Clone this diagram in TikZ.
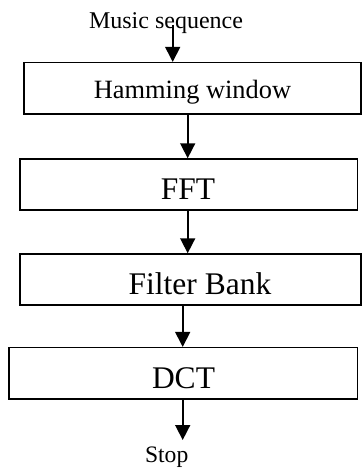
\documentclass[tikz,border=0pt]{standalone}
\usepackage{fontspec}
\setmainfont{Liberation Serif}
\usetikzlibrary{arrows.meta}
\begin{document}
\begin{tikzpicture}[x=1pt,y=-1pt,
  box/.style={draw, line width=1.5pt, rectangle, inner sep=0pt},
  arr/.style={line width=1.6pt, -{Triangle[width=15pt,length=15pt]}},
  lbl/.style={anchor=base, inner sep=0pt}]
\useasboundingbox (0,0) rectangle (362,468);
% boxes
\node[box, minimum width=337pt, minimum height=51.3pt] (ham) at (192.5,88.3) {};
\node[box, minimum width=337.5pt, minimum height=51pt] (fft) at (188.75,184.5) {};
\node[box, minimum width=341pt, minimum height=51pt] (fb) at (190.5,279.5) {};
\node[box, minimum width=348.5pt, minimum height=51.3pt] (dct) at (183.25,373.3) {};
% texts
\node[lbl, font=\fontsize{24}{28}\selectfont] (music) at (166,28.3) {Music sequence};
\node[lbl, font=\fontsize{26.4}{30}\selectfont] (hamt) at (192.5,98.3) {Hamming window};
\node[lbl, font=\fontsize{31.5}{36}\selectfont] (fftt) at (188,199.3) {FFT};
\node[lbl, font=\fontsize{31.5}{36}\selectfont] (fbt) at (200,294) {Filter Bank};
\node[lbl, font=\fontsize{31.5}{36}\selectfont] (dctt) at (183.5,388.3) {DCT};
\node[lbl, font=\fontsize{23.6}{28}\selectfont] (stop) at (166.7,462.5) {Stop};
% arrow x positions and free ends
\coordinate (in) at (172.7,25);
\coordinate (x2) at (187.7,0);
\coordinate (x4) at (182.7,0);
\coordinate (out) at (182.7,440);
% connectors
\draw[arr] (in) -- (in |- ham.north);
\draw[arr] (ham.south -| x2) -- (fft.north -| x2);
\draw[arr] (fft.south -| x2) -- (fb.north -| x2);
\draw[arr] (fb.south -| x4) -- (dct.north -| x4);
\draw[arr] (dct.south -| x4) -- (out);
\end{tikzpicture}
\end{document}
